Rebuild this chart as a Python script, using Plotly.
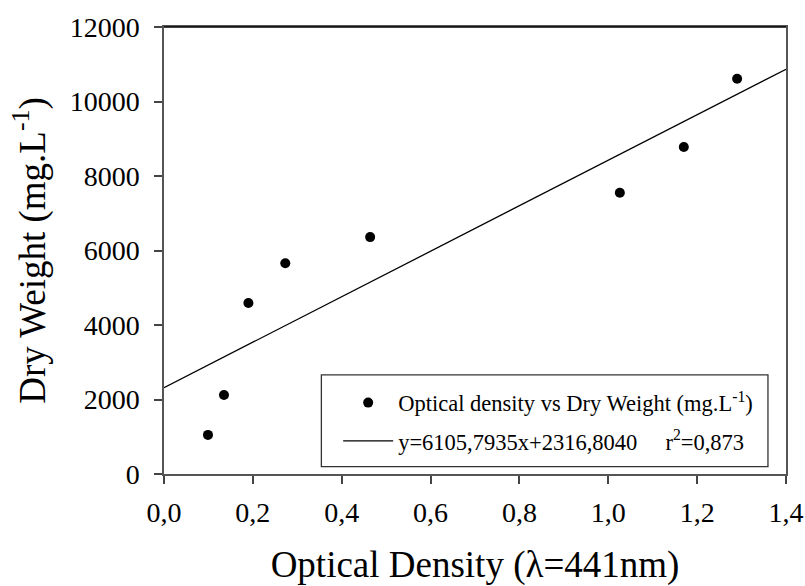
import plotly.graph_objects as go

# Data
optical_density = [0.099, 0.135, 0.190, 0.273, 0.464, 1.026, 1.170, 1.290]
dry_weight = [1050, 2120, 4590, 5660, 6360, 7550, 8780, 10610]

# Regression reported in the chart
slope = 6105.7935
intercept = 2316.8040
fit_x = [0.0, 1.4]
fit_y = [slope * v + intercept for v in fit_x]

x_tick_vals = [0.0, 0.2, 0.4, 0.6, 0.8, 1.0, 1.2, 1.4]
x_tick_text = ["0,0", "0,2", "0,4", "0,6", "0,8", "1,0", "1,2", "1,4"]
y_tick_vals = [0, 2000, 4000, 6000, 8000, 10000, 12000]
y_tick_text = ["0", "2000", "4000", "6000", "8000", "10000", "12000"]

FONT = "Liberation Serif"
AXIS_COLOR = "#555555"

fig = go.Figure()
fig.add_trace(go.Scatter(
    x=optical_density, y=dry_weight, mode="markers",
    marker=dict(color="black", size=10),
    name="Optical density vs Dry Weight (mg.L<sup>-1</sup>)",
    legendgroup="a",
))
fig.add_trace(go.Scatter(
    x=fit_x, y=fit_y, mode="lines",
    line=dict(color="black", width=1.3),
    name="y=6105,7935x+2316,8040     r<sup>2</sup>=0,873",
    legendgroup="b",
))

fig.update_layout(
    width=805, height=586,
    margin=dict(l=164, r=19, t=27, b=112),
    paper_bgcolor="white", plot_bgcolor="white",
    font=dict(family=FONT, color="black"),
    showlegend=True,
    legend=dict(
        x=0.28, y=0.207, xanchor="left", yanchor="top",
        bgcolor="rgba(0,0,0,0)", borderwidth=0,
        font=dict(family=FONT, size=22.5, color="black"),
        itemwidth=50, tracegroupgap=6, traceorder="grouped",
    ),
    shapes=[
        dict(
            type="rect", xref="paper", yref="paper",
            x0=0.253, x1=0.971, y0=0.0163, y1=0.2216,
            line=dict(color="#333333", width=1.3), fillcolor="rgba(0,0,0,0)",
        ),
        dict(
            type="line", xref="paper", yref="paper",
            x0=0, x1=1, y0=1, y1=1,
            line=dict(color="black", width=1.5),
        ),
    ],
    xaxis=dict(
        range=[0, 1.4], tickvals=x_tick_vals, ticktext=x_tick_text,
        showgrid=False, zeroline=False, automargin=False,
        showline=True, linecolor=AXIS_COLOR, linewidth=1.5, mirror=True,
        ticks="outside", ticklen=8, tickwidth=2, tickcolor="#444444",
        ticklabelstandoff=5,
        tickfont=dict(family=FONT, size=28, color="black"),
        title=dict(text="Optical Density (λ=441nm)", font=dict(family=FONT, size=37, color="black"), standoff=30),
    ),
    yaxis=dict(
        range=[0, 12000], tickvals=y_tick_vals, ticktext=y_tick_text,
        showgrid=False, zeroline=False, automargin=False,
        showline=True, linecolor=AXIS_COLOR, linewidth=1.5, mirror=True,
        ticks="outside", ticklen=8, tickwidth=2, tickcolor="#444444",
        ticklabelstandoff=9,
        tickfont=dict(family=FONT, size=28, color="black"),
        title=dict(text="Dry Weight (mg.L<sup>-1</sup>)", font=dict(family=FONT, size=37, color="black"), standoff=13),
    ),
)

fig.write_html("out.html")
